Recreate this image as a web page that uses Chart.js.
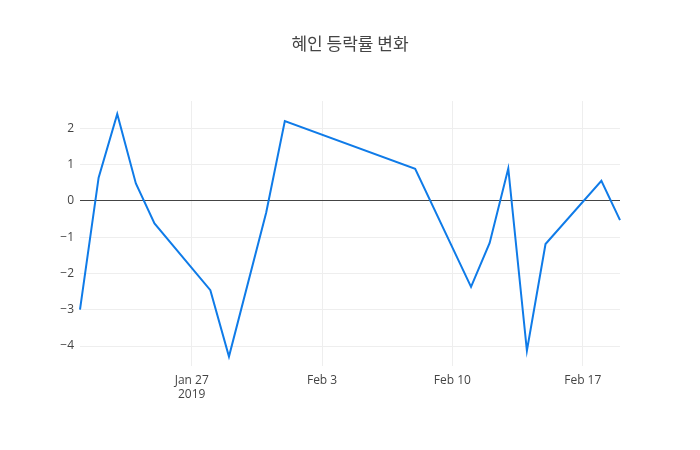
<!DOCTYPE html>
<html>
<head>
<meta charset="utf-8">
<script src="https://cdn.jsdelivr.net/npm/chart.js@4"></script>
<style>
  body { margin: 0; background: #fff; }
  #wrap { width: 700px; height: 450px; }
</style>
</head>
<body>
<div id="wrap"><canvas id="myChart" width="700" height="450"></canvas></div>
<script>
// data
const dates = ['2019-01-21', '2019-01-22', '2019-01-23', '2019-01-24', '2019-01-25',
  '2019-01-28', '2019-01-29', '2019-01-31', '2019-02-01', '2019-02-08',
  '2019-02-11', '2019-02-12', '2019-02-13', '2019-02-14', '2019-02-15',
  '2019-02-18', '2019-02-19'];
const changes = [-3.0, 0.64, 2.39, 0.48, -0.62,
  -2.46, -4.29, -0.32, 2.2, 0.88,
  -2.37, -1.16, 0.89, -4.13, -1.19,
  0.55, -0.53];
const xTickDates = ['2019-01-27', '2019-02-03', '2019-02-10', '2019-02-17'];
const yTicks = [-4, -3, -2, -1, 0, 1, 2];
const title = '혜인 등락률 변화';

const DAY = 86400000;
const start = Date.parse(dates[0]);
const dayOf = d => (Date.parse(d) - start) / DAY;
const months = ['Jan', 'Feb', 'Mar', 'Apr', 'May', 'Jun', 'Jul', 'Aug', 'Sep', 'Oct', 'Nov', 'Dec'];

function dateLabel(v, i) {
  const d = new Date(start + v * DAY);
  const s = months[d.getUTCMonth()] + ' ' + d.getUTCDate();
  return i === 0 ? [s, String(d.getUTCFullYear())] : s;
}

const points = dates.map((d, i) => ({ x: dayOf(d), y: changes[i] }));

const font = { family: '"Open Sans", "Noto Sans", sans-serif', size: 12 };

// title centred on the whole page, not on the plot
const pageTitle = {
  id: 'pageTitle',
  afterDraw(chart) {
    const c = chart.ctx;
    c.save();
    c.font = '17px "Noto Sans CJK KR", sans-serif';
    c.fillStyle = '#444';
    c.textAlign = 'center';
    c.textBaseline = 'middle';
    c.fillText(title, chart.width / 2, 44);
    c.restore();
  }
};

const ctx = document.getElementById('myChart').getContext('2d');
const myChart = new Chart(ctx, {
  type: 'line',
  data: {
    datasets: [{
      data: points,
      borderColor: '#0f7be8',
      borderWidth: 2,
      pointRadius: 0,
      tension: 0,
      clip: false
    }]
  },
  options: {
    responsive: false,
    animation: false,
    layout: { padding: { left: 0, right: 80, top: 101, bottom: 0 } },
    plugins: {
      legend: { display: false },
      tooltip: { enabled: false },
      title: { display: false }
    },
    scales: {
      x: {
        type: 'linear',
        min: 0,
        max: dayOf(dates[dates.length - 1]),
        afterBuildTicks: axis => {
          axis.ticks = xTickDates.map(d => ({ value: dayOf(d) }));
        },
        afterFit: axis => { axis.height = 84; },
        ticks: {
          autoSkip: false,
          maxRotation: 0,
          color: '#444',
          font: font,
          padding: 7,
          callback: (v, i) => dateLabel(v, i)
        },
        grid: { color: '#eee', drawTicks: false },
        border: { display: false }
      },
      y: {
        min: -4.55,
        max: 2.75,
        afterBuildTicks: axis => {
          axis.ticks = yTicks.map(v => ({ value: v }));
        },
        afterFit: axis => { axis.width = 80; },
        ticks: {
          color: '#444',
          font: font,
          padding: 6,
          callback: v => String(v).replace('-', '\u2212')
        },
        grid: {
          drawTicks: false,
          color: c => c.tick && c.tick.value === 0 ? '#444' : '#eee',
          lineWidth: 1
        },
        border: { display: false }
      }
    }
  },
  plugins: [pageTitle]
});
</script>
</body>
</html>
